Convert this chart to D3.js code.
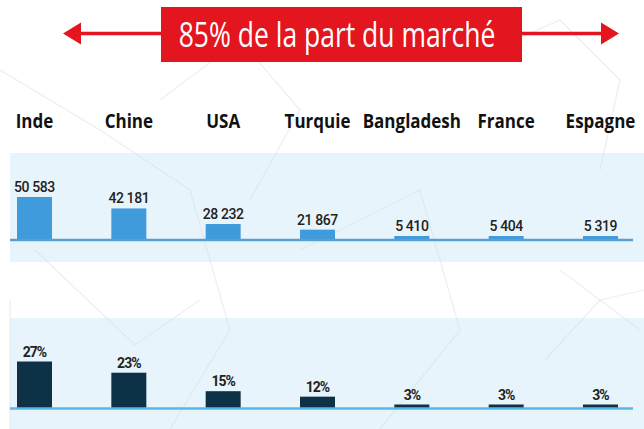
<!DOCTYPE html>
<html>
<head>
<meta charset="utf-8">
<script src="https://cdn.jsdelivr.net/npm/d3@7"></script>
<style>
  body { margin: 0; background: #fff; }
  svg { display: block; }
</style>
</head>
<body>
<div class="svg-container"></div>
<script>
// data
const countries = ["Inde", "Chine", "USA", "Turquie", "Bangladesh", "France", "Espagne"];
const tonnes = [50583, 42181, 28232, 21867, 5410, 5404, 5319];
const shares = [27, 23, 15, 12, 3, 3, 3];
const titleText = "85% de la part du marché";

const width = 644, height = 429;

const svg = d3.select(".svg-container")
  .append("svg")
  .attr("width", width)
  .attr("height", height);

const frFormat = d3.formatLocale({ decimal: ",", thousands: " ", grouping: [3], currency: ["", " €"] }).format(",d");

// X - band scale shared by both rows
const xScale = d3.scaleBand()
  .domain(countries)
  .range([17, 618])
  .paddingInner(0.629)
  .paddingOuter(0);

// heights (the source is drawn with a non linear feel)
const hTop = d3.scalePow().exponent(1.7).domain([0, d3.max(tonnes)]).range([0, 43]);
const hBottom = d3.scalePow().exponent(1.7).domain([0, d3.max(shares)]).range([0, 47]);

// light blue panels
svg.append("rect").attr("x", 10).attr("y", 153).attr("width", 634).attr("height", 109).attr("fill", "#e8f4fb");
svg.append("rect").attr("x", 10).attr("y", 318).attr("width", 634).attr("height", 111).attr("fill", "#e8f4fb");

// faint background pattern
const deco = svg.append("g")
  .attr("fill", "none")
  .attr("stroke", "#d9d9d9")
  .attr("stroke-opacity", 0.45)
  .attr("stroke-width", 1.2);
[
  "M0,70 L100,130 L190,190 L230,330 L170,429",
  "M35,250 L135,345 L200,300",
  "M160,100 L240,40 L300,110 L250,200",
  "M300,250 L420,190 L460,330 L380,429",
  "M470,60 L560,20 L620,80 L600,170",
  "M560,270 L640,330",
  "M545,360 L600,300 L644,290",
  "M10,300 L10,429"
].forEach(p => deco.append("path").attr("d", p));

// TITLE
const red = "#e3151f";
const arrowY = 33.5;
svg.append("line")
  .attr("x1", 75).attr("x2", 606)
  .attr("y1", arrowY).attr("y2", arrowY)
  .attr("stroke", red).attr("stroke-width", 3.5);
svg.append("path")
  .attr("d", `M63,${arrowY} L81,${arrowY - 11} L81,${arrowY + 11} Z`)
  .attr("fill", red);
svg.append("path")
  .attr("d", `M619,${arrowY} L601,${arrowY - 11} L601,${arrowY + 11} Z`)
  .attr("fill", red);
svg.append("rect")
  .attr("x", 161).attr("y", 7).attr("width", 361).attr("height", 55)
  .attr("fill", red);
svg.append("text")
  .attr("transform", "translate(337,46.5) scale(1,1.3)")
  .attr("text-anchor", "middle")
  .style("font-family", "'Open Sans', sans-serif")
  .style("font-size", "26.5px")
  .style("fill", "#fff")
  .text(titleText);

// country labels
svg.selectAll(".country")
  .data(countries)
  .enter()
  .append("text")
  .attr("class", "country")
  .attr("transform", d => "translate(" + (xScale(d) + xScale.bandwidth() / 2) + ",128) scale(1,1.2)")
  .attr("text-anchor", "middle")
  .style("font-family", "'Open Sans', sans-serif")
  .style("font-weight", 700)
  .style("font-size", "17px")
  .style("fill", "#111")
  .text(d => d);

function drawRow(values, scale, baseY, barColour, lineColour, fmt, labelStyle) {
  const g = svg.append("g");
  g.selectAll("rect")
    .data(values)
    .enter()
    .append("rect")
    .attr("x", (d, i) => xScale(countries[i]))
    .attr("width", xScale.bandwidth())
    .attr("y", d => baseY - Math.max(scale(d), 4))
    .attr("height", d => Math.max(scale(d), 4))
    .attr("fill", barColour);

  g.append("line")
    .attr("x1", 10).attr("x2", 633)
    .attr("y1", baseY).attr("y2", baseY)
    .attr("stroke", lineColour)
    .attr("stroke-width", 2.5);

  g.selectAll("text")
    .data(values)
    .enter()
    .append("text")
    .attr("x", (d, i) => xScale(countries[i]) + xScale.bandwidth() / 2)
    .attr("y", d => baseY - Math.max(scale(d), 4) - 5)
    .attr("text-anchor", "middle")
    .style("font-family", "Roboto, sans-serif")
    .style("font-weight", labelStyle.weight)
    .style("font-size", labelStyle.size)
    .style("letter-spacing", labelStyle.spacing)
    .style("fill", "#222")
    .text(fmt);
}

drawRow(tonnes, hTop, 240, "#3f9bdb", "#5a9fd2", d => frFormat(d), { weight: 500, size: "14px", spacing: "-0.4px" });
drawRow(shares, hBottom, 408.5, "#0d3147", "#58b8e6", d => d + "%", { weight: 700, size: "14px", spacing: "-1px" });
</script>
</body>
</html>
